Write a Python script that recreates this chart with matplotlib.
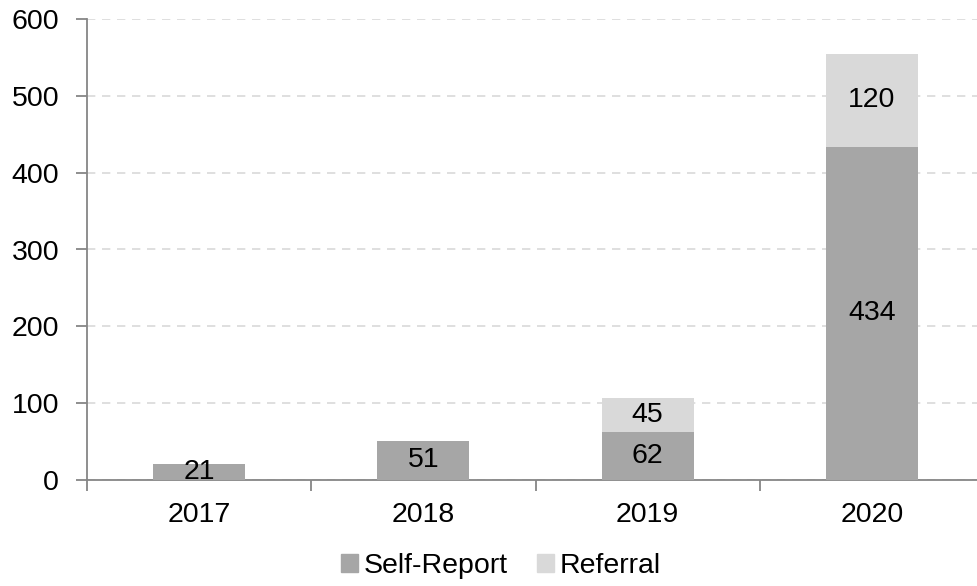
import numpy as np
import matplotlib.pyplot as plt
from matplotlib.patches import Patch

years = ['2017', '2018', '2019', '2020']
self_report = [21, 51, 62, 434]
referral = [0, 0, 45, 120]

plt.rcParams['font.family'] = ['Liberation Sans', 'DejaVu Sans']
fs = 20.5

fig = plt.figure(figsize=(9.77, 5.86), dpi=100)
ax = fig.add_axes([87 / 977, 106 / 586, 897 / 977, 461 / 586])

x = np.arange(len(years))
w = 0.41
c_self = '#A6A6A6'
c_ref = '#D9D9D9'
ax.bar(x, self_report, w, color=c_self, zorder=3)
ax.bar(x, referral, w, bottom=self_report, color=c_ref, zorder=3)

# value labels in the middle of each segment
for i in range(len(years)):
    ax.text(x[i], self_report[i] / 2, str(self_report[i]), ha='center', va='center',
            fontsize=fs, zorder=4)
    if referral[i] > 0:
        ax.text(x[i], self_report[i] + referral[i] / 2, str(referral[i]), ha='center',
                va='center', fontsize=fs, zorder=4)

ax.set_xlim(-0.5, 3.5)
ax.set_ylim(0, 600)
ax.set_yticks(range(0, 601, 100))
ax.yaxis.grid(True, linestyle=(0, (5, 4)), color='#D9D9D9', linewidth=1.2, zorder=0)

ax.set_xticks(x)
ax.set_xticklabels(years)
ax.set_xticks(np.arange(-0.5, 3.6, 1), minor=True)
ax.tick_params(axis='x', which='major', length=0, pad=16, labelsize=fs)
ax.tick_params(axis='x', which='minor', length=8, color='#868686', width=1.3)
ax.tick_params(axis='y', length=8, color='#868686', width=1.3, labelsize=fs, pad=12)

for s in ['top', 'right']:
    ax.spines[s].set_visible(False)
for s in ['left', 'bottom']:
    ax.spines[s].set_color('#868686')
    ax.spines[s].set_linewidth(1.3)

handles = [Patch(color=c_self, label='Self-Report'), Patch(color=c_ref, label='Referral')]
fig.legend(handles=handles, loc='center', bbox_to_anchor=(501 / 977, 1 - 566 / 586), ncol=2,
           frameon=False, fontsize=fs, handlelength=0.6, handleheight=0.6,
           handletextpad=0.2, columnspacing=1.0)

fig.savefig('out.png', dpi=100)
